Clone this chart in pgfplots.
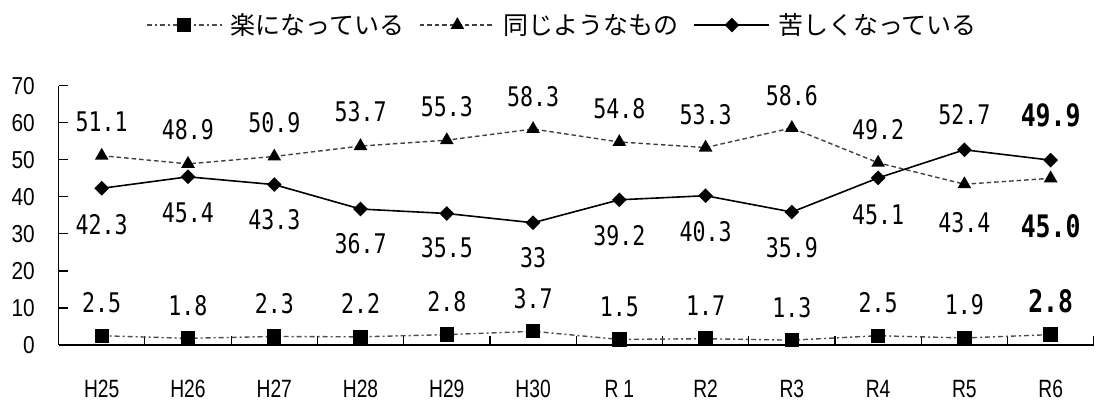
\documentclass[border=0pt]{standalone}
\usepackage{fontspec}
\usepackage{pgfplots}
\usepackage{pgfplotstable}
\pgfplotsset{compat=1.18}
\setmainfont{Liberation Sans}
\newfontfamily\jpfont{Noto Sans CJK JP}
\newfontfamily\valfont[FakeStretch=0.8]{DejaVu Sans Mono}
\newfontfamily\yfont[FakeStretch=0.85]{Liberation Sans}
\newfontfamily\xfont[FakeStretch=0.77]{Liberation Sans}
\newcommand{\latest}{\bfseries\fontsize{31}{31}\selectfont}

% x: year index, y: share (%), dy: label offset, lab: label text
\pgfplotstableread{
x y dy lab
0 2.5 33 2.5
1 1.8 33 1.8
2 2.3 33 2.3
3 2.2 33 2.2
4 2.8 33 2.8
5 3.7 33 3.7
6 1.5 33 1.5
7 1.7 33 1.7
8 1.3 33 1.3
9 2.5 33 2.5
10 1.9 33 1.9
11 2.8 33 {\latest 2.8}
}\easier

\pgfplotstableread{
x y dy lab
0 51.1 34 51.1
1 48.9 34 48.9
2 50.9 34 50.9
3 53.7 34 53.7
4 55.3 33 55.3
5 58.3 32 58.3
6 54.8 33 54.8
7 53.3 33 53.3
8 58.6 32 58.6
9 49.2 33 49.2
10 43.4 -38 43.4
11 45.0 -48 {\latest 45.0}
}\same

\pgfplotstableread{
x y dy lab
0 42.3 -36 42.3
1 45.4 -36 45.4
2 43.3 -35 43.3
3 36.7 -35 36.7
4 35.5 -34 35.5
5 33 -35 33
6 39.2 -36 39.2
7 40.3 -36 40.3
8 35.9 -36 35.9
9 45.1 -37 45.1
10 52.7 35 52.7
11 49.9 45 {\latest 49.9}
}\harder

\begin{document}
\begin{tikzpicture}
\useasboundingbox (-58.6pt,-56pt) rectangle (1037.4pt,345pt);
\begin{axis}[
  at={(0pt,0pt)}, anchor=south west,
  scale only axis, width=1035.2pt, height=259.3pt,
  xmin=-0.5, xmax=11.5, ymin=0, ymax=70,
  axis lines=left, axis line style={-, line width=1.5pt, black},
  clip=false,
  xtick={0,...,11},
  xticklabels={H25,H26,H27,H28,H29,H30,{R\hspace{5pt}1},R2,R3,R4,R5,R6},
  minor xtick={0.5,1.5,...,11.5},
  ytick={0,10,...,70},
  yticklabels={0,10,20,30,40,50,60,70},
  tick align=inside,
  major tick length=9pt, minor tick length=9pt,
  major x tick style={draw=none},
  every tick/.style={black, line width=1.2pt},
  minor x tick style={black, line width=1.2pt},
  yticklabel style={font=\yfont\fontsize{24.5}{25}\selectfont, anchor=east, inner sep=0pt, xshift=-23.6pt},
  xticklabel style={font=\xfont\fontsize{25}{25}\selectfont, anchor=center, inner sep=0pt, yshift=-44pt},
  nodes near coords,
  point meta=explicit symbolic,
  visualization depends on={\thisrow{dy}\as\dy},
  every node near coord/.append style={anchor=center, inner sep=0pt, yshift=\dy*1pt,
    font=\valfont\fontsize{27}{27}\selectfont, text=black},
  legend columns=3,
  legend style={draw=none, fill=none, at={(0.4858,1.234)}, anchor=center,
    font=\jpfont\fontsize{25}{26}\selectfont,
    nodes={inner sep=0pt},
    /tikz/every odd column/.append style={column sep=8pt},
    /tikz/every even column/.append style={column sep=15pt}},
  legend image code/.code={\draw[mark repeat=2, mark phase=2, #1]
    plot coordinates {(0pt,0pt) (37.5pt,0pt) (75pt,0pt)};},
]
\addplot[black!70, line width=1.4pt, dash pattern=on 5pt off 3pt on 2pt off 3pt,
  mark=square*, mark size=6.5pt, mark options={solid, fill=black, draw=black}]
  table[x=x, y=y, meta=lab] {\easier};
\addlegendentry{楽になっている}
\addplot[black!75, line width=1.4pt, dash pattern=on 4.5pt off 3pt,
  mark=triangle*, mark size=6.5pt, mark options={solid, fill=black, draw=black}]
  table[x=x, y=y, meta=lab] {\same};
\addlegendentry{同じようなもの}
\addplot[black, line width=1.6pt,
  mark=square*, mark size=4.4pt, mark options={solid, fill=black, rotate=45}]
  table[x=x, y=y, meta=lab] {\harder};
\addlegendentry{苦しくなっている}
\end{axis}
\end{tikzpicture}
\end{document}
